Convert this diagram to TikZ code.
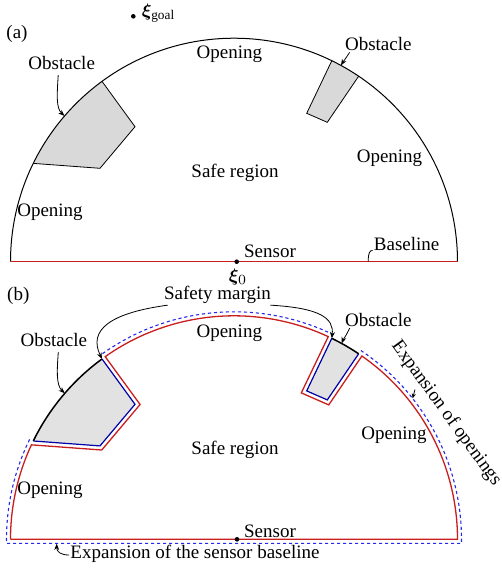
\documentclass[tikz,border=0pt]{standalone}
\usepackage{fontspec}
\setmainfont{Liberation Serif}
\usepackage{bm}
\usetikzlibrary{calc,arrows.meta}
\definecolor{rl}{RGB}{200,30,30}
\definecolor{bl}{RGB}{0,0,170}
\definecolor{bd}{RGB}{40,40,235}
\definecolor{oga}{RGB}{217,217,217}
\definecolor{ogb}{RGB}{226,226,226}
\def\R{111.75pt}
\def\Rd{113.75pt}
\begin{document}
\begin{tikzpicture}[x=0.5pt,y=-0.5pt,
  lbl/.style={font=\fontsize{9.5}{11}\selectfont, inner sep=2pt},
  pointer/.style={line width=0.4pt, -{Stealth[length=3.2pt,width=2.4pt]}},
  smallpointer/.style={line width=0.4pt, -{Stealth[length=2.4pt,width=2pt]}},
  conn/.style={line width=0.4pt},
  dotnode/.style={circle,fill=black,inner sep=0pt,minimum size=2.3pt},
  redline/.style={rl,line width=0.65pt},
  blueline/.style={bl,line width=0.6pt},
  bluedash/.style={bd,line width=0.55pt,dash pattern=on 1.6pt off 1.4pt},
  obsedge/.style={line width=0.4pt},
  obsarc/.style={line width=0.75pt}]
\useasboundingbox (0,0) rectangle (502,569);

% ================= panel (a) =================
\coordinate (Ca) at (234,261.7);
\fill[oga] ($(Ca)+(153.9:\R)$) -- (100,168.3) -- (135,126.7) -- ($(Ca)+(126.2:\R)$) arc[start angle=126.2,end angle=153.9,radius=\R] -- cycle;
\fill[oga] ($(Ca)+(64.05:\R)$) -- (306.7,113.3) -- (327.3,122.3) -- ($(Ca)+(56.1:\R)$) arc[start angle=56.1,end angle=64.05,radius=\R] -- cycle;
\draw[obsedge] ($(Ca)+(153.9:\R)$) -- (100,168.3) -- (135,126.7) -- ($(Ca)+(126.2:\R)$);
\draw[obsedge] ($(Ca)+(64.05:\R)$) -- (306.7,113.3) -- (327.3,122.3) -- ($(Ca)+(56.1:\R)$);
\draw[line width=0.5pt] ($(Ca)+(0:\R)$) arc[start angle=0,end angle=180,radius=\R];
\draw[redline] ($(Ca)+(180:\R)$) -- ($(Ca)+(0:\R)$);

\node[dotnode] (sa) at (236.7,261.7) {};
\node[dotnode] (goal) at (133.3,16.3) {};
\node[lbl,anchor=west] (goallab) at (137.5,13) {$\bm{\xi}_{\mathrm{goal}}$};
\node[lbl] (xi0) at (238,277) {$\bm{\xi}_0$};

\node[lbl] (la) at (17,33.5) {(a)};
\node[lbl] (obsA) at (61.7,63) {Obstacle};
\node[lbl] (obsB) at (378.3,44.3) {Obstacle};
\node[lbl] (opA1) at (229.4,53.8) {Opening};
\node[lbl] (opA2) at (389.5,158) {Opening};
\node[lbl] (opA3) at (50,212.5) {Opening};
\node[lbl] (safeA) at (235,173) {Safe region};
\node[lbl] (sensA) at (270,251.7) {Sensor};
\node[lbl] (baseA) at (406.7,244) {Baseline};

\coordinate (tA) at ($(Ca)+(139.3:\R)$);
\coordinate (tB) at ($(Ca)+(61.4:\R)$);
\draw[pointer] ($(obsA.south)+(-3.5,1)$) .. controls (57,95) and (56,108) .. (tA);
\draw[pointer] ($(obsB.south west)+(9,-3)$) .. controls (346,58) and (343,62) .. (tB);
\coordinate (blc) at (368.3,261.7);
\draw[conn] (blc) .. controls (368,253) and (370,250) .. ($(baseA.base west)+(3,0)$);

% ================= panel (b) =================
\coordinate (Cb) at (234,539.3);
\fill[ogb] ($(Cb)+(153.9:\R)$) -- (100,445.9) -- (135,404.3) -- ($(Cb)+(126.2:\R)$) arc[start angle=126.2,end angle=153.9,radius=\R] -- cycle;
\fill[ogb] ($(Cb)+(64.05:\R)$) -- (306.7,390.9) -- (327.3,399.9) -- ($(Cb)+(56.1:\R)$) arc[start angle=56.1,end angle=64.05,radius=\R] -- cycle;

\draw[redline] ($(Cb)+(180:\R)$) -- ($(Cb)+(0:\R)$)
  arc[start angle=0,end angle=55.09,radius=\R]
  -- (328.75,404.9) -- (301.3,392.9) -- ($(Cb)+(65.06:\R)$)
  arc[start angle=65.06,end angle=125.19,radius=\R]
  -- (140.1,404.5) -- (101.75,450.0) -- ($(Cb)+(155.0:\R)$)
  arc[start angle=155,end angle=180,radius=\R];
\draw[blueline] ($(Cb)+(126.2:\R)$) -- (135,404.3) -- (100,445.9) -- ($(Cb)+(153.9:\R)$);
\draw[blueline] ($(Cb)+(64.05:\R)$) -- (306.7,390.9) -- (327.3,399.9) -- ($(Cb)+(56.1:\R)$);
\draw[obsarc] ($(Cb)+(126.2:\R)$) arc[start angle=126.2,end angle=153.9,radius=\R];
\draw[obsarc] ($(Cb)+(56.1:\R)$) arc[start angle=56.1,end angle=64.05,radius=\R];

\draw[bluedash] ($(Cb)+(56.1:\Rd)$) arc[start angle=56.1,end angle=0,radius=\Rd]
  -- ++(0,4) -- (6.5,543.3) -- ++(0,-4) arc[start angle=180,end angle=153.9,radius=\Rd];
\draw[bluedash] ($(Cb)+(64.05:\Rd)$) arc[start angle=64.05,end angle=126.2,radius=\Rd];

\node[dotnode] (sb) at (237,539.3) {};

\node[lbl] (lb) at (18.3,296) {(b)};
\node[lbl] (sm) at (217.5,295) {Safety margin};
\node[lbl] (obsC) at (53.8,340) {Obstacle};
\node[lbl] (obsD) at (378.3,320) {Obstacle};
\node[lbl] (opB1) at (229.3,333.5) {Opening};
\node[lbl] (opB2) at (394,435.5) {Opening};
\node[lbl] (opB3) at (50,490.5) {Opening};
\node[lbl] (safeB) at (235,450) {Safe region};
\node[lbl] (sensB) at (270,530.8) {Sensor};
\node[lbl,rotate=-54,inner sep=0.5pt] (eo) at (446.2,413.4) {Expansion of openings};
\node[lbl] (esb) at (195,554) {Expansion of the sensor baseline};

\coordinate (P1b) at ($(Cb)+(126.2:\R)$);
\coordinate (P5b) at ($(Cb)+(64.05:\R)$);
\coordinate (tC) at ($(Cb)+(139.2:\R)$);
\coordinate (tD) at ($(Cb)+(61.2:\R)$);
\draw[pointer] ($(sm.south west)+(8,-3)$) .. controls (110,313) and (88,330) .. (P1b);
\draw[pointer] ($(sm.south east)+(-5,-3)$) .. controls (320,308) and (334,318) .. (P5b);
\draw[pointer] ($(obsC.south)+(4.5,1)$) .. controls (57,370) and (56,385) .. (tC);
\draw[pointer] ($(obsD.south west)+(9,-3)$) .. controls (346,336) and (343,340) .. (tD);
\coordinate (eoA) at (415,389.5);
\coordinate (eoB) at (412.6,398.4);
\draw[smallpointer] (eoA) -- (eoB);
\coordinate (esbT) at (56.7,543.6);
\draw[pointer] ($(esb.west)+(3,1)$) .. controls (61,555) and (56.7,552) .. (esbT);
\end{tikzpicture}
\end{document}
